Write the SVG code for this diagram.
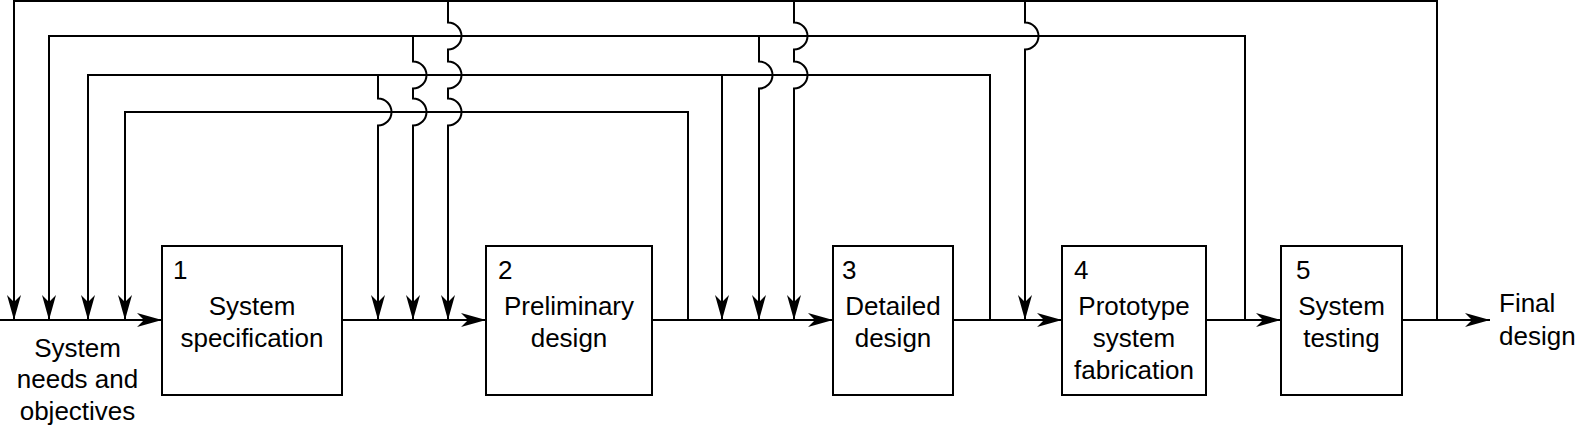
<svg xmlns="http://www.w3.org/2000/svg" width="1578" height="428" viewBox="0 0 1578 428">
<style>
.box{fill:#fff;stroke:#000;stroke-width:2}
.ln{fill:none;stroke:#000;stroke-width:2}
.t{font-family:"Liberation Sans",Arial,sans-serif;font-size:26px;fill:#000;text-anchor:middle}
.n{font-family:"Liberation Sans",Arial,sans-serif;font-size:26px;fill:#000;text-anchor:start}
</style>
<defs>
<marker id="arr" markerUnits="userSpaceOnUse" viewBox="0 0 25 14" markerWidth="25" markerHeight="14" refX="25" refY="7" orient="auto">
<path d="M25,7 L0,0 L7,7 L0,14 Z" fill="#000"/>
</marker>
</defs>
<rect width="1578" height="428" fill="#fff"/>
<g id="connectors" class="ln">
<path d="M0,320 H162" marker-end="url(#arr)"/>
<path d="M342,320 H486" marker-end="url(#arr)"/>
<path d="M652,320 H833" marker-end="url(#arr)"/>
<path d="M953,320 H1062" marker-end="url(#arr)"/>
<path d="M1206,320 H1281" marker-end="url(#arr)"/>
<path d="M1402,320 H1490" marker-end="url(#arr)"/>
<path d="M688,320 V112 H125 V320" marker-end="url(#arr)"/>
<path d="M990,320 V75 H88 V320" marker-end="url(#arr)"/>
<path d="M722,75 V320" marker-end="url(#arr)"/>
<path d="M378,75 V98.5 A13.5,13.5 0 0 1 378,125.5 V320" marker-end="url(#arr)"/>
<path d="M1245,320 V36 H49 V320" marker-end="url(#arr)"/>
<path d="M413,36 V61.5 A13.5,13.5 0 0 1 413,88.5 V98.5 A13.5,13.5 0 0 1 413,125.5 V320" marker-end="url(#arr)"/>
<path d="M759,36 V61.5 A13.5,13.5 0 0 1 759,88.5 V320" marker-end="url(#arr)"/>
<path d="M1437,320 V1 H14 V320" marker-end="url(#arr)"/>
<path d="M448,1 V22.5 A13.5,13.5 0 0 1 448,49.5 V61.5 A13.5,13.5 0 0 1 448,88.5 V98.5 A13.5,13.5 0 0 1 448,125.5 V320" marker-end="url(#arr)"/>
<path d="M794,1 V22.5 A13.5,13.5 0 0 1 794,49.5 V61.5 A13.5,13.5 0 0 1 794,88.5 V320" marker-end="url(#arr)"/>
<path d="M1025,1 V22.5 A13.5,13.5 0 0 1 1025,49.5 V320" marker-end="url(#arr)"/>
</g>
<g id="input">
<text class="t" x="77.5" y="357">System</text>
<text class="t" x="77.5" y="388">needs and</text>
<text class="t" x="77.5" y="420">objectives</text>
</g>
<g id="node1">
<rect class="box" x="162" y="246" width="180" height="149"/>
<text class="n" x="173" y="279">1</text>
<text class="t" x="252" y="315">System</text>
<text class="t" x="252" y="347">specification</text>
</g>
<g id="node2">
<rect class="box" x="486" y="246" width="166" height="149"/>
<text class="n" x="498" y="279">2</text>
<text class="t" x="569" y="315">Preliminary</text>
<text class="t" x="569" y="347">design</text>
</g>
<g id="node3">
<rect class="box" x="833" y="246" width="120" height="149"/>
<text class="n" x="842" y="279">3</text>
<text class="t" x="893" y="315">Detailed</text>
<text class="t" x="893" y="347">design</text>
</g>
<g id="node4">
<rect class="box" x="1062" y="246" width="144" height="149"/>
<text class="n" x="1074" y="279">4</text>
<text class="t" x="1134" y="315">Prototype</text>
<text class="t" x="1134" y="347">system</text>
<text class="t" x="1134" y="379">fabrication</text>
</g>
<g id="node5">
<rect class="box" x="1281" y="246" width="121" height="149"/>
<text class="n" x="1296" y="279">5</text>
<text class="t" x="1341.5" y="315">System</text>
<text class="t" x="1341.5" y="347">testing</text>
</g>
<g id="output">
<text class="n" x="1499" y="312">Final</text>
<text class="n" x="1499" y="345">design</text>
</g>
</svg>
